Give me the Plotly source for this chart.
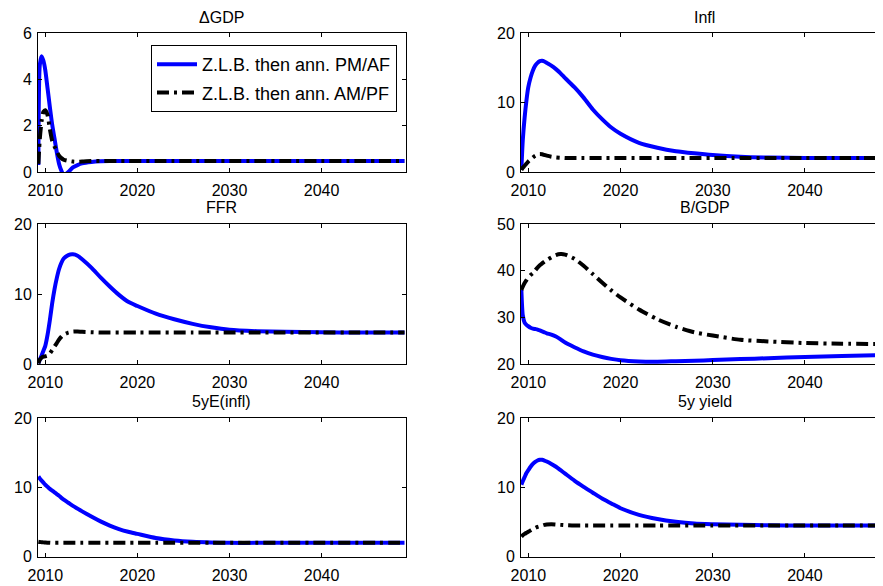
import plotly.graph_objects as go

# ---------------- data ----------------
years = [2009.25, 2009.4, 2009.6, 2009.8, 2010.0, 2010.25, 2010.5, 2010.75, 2011.0, 2011.25,
         2011.5, 2011.75, 2012.0, 2012.5, 2013.0, 2013.5, 2014.0, 2015.0, 2016.0, 2017.0,
         2018.0, 2019.0, 2020.0, 2022.0, 2024.0, 2026.0, 2028.0, 2030.0, 2033.0, 2036.0,
         2040.0, 2044.0, 2049.0]

gdp_pm = [0.3, 4.6, 5.0, 4.8, 4.4, 3.6, 2.8, 2.05, 1.45, 0.85, 0.35, 0.05, -0.15, 0.0, 0.2,
          0.3, 0.37, 0.43, 0.46, 0.47, 0.47, 0.47, 0.47, 0.47, 0.47, 0.47, 0.47, 0.47, 0.47,
          0.47, 0.47, 0.47, 0.47]
gdp_am = [0.35, 1.4, 2.2, 2.6, 2.67, 2.45, 1.85, 1.35, 1.1, 0.9, 0.7, 0.6, 0.53, 0.48, 0.45,
          0.44, 0.45, 0.47, 0.47, 0.47, 0.47, 0.47, 0.47, 0.47, 0.47, 0.47, 0.47, 0.47, 0.47,
          0.47, 0.47, 0.47, 0.47]

infl_pm = [0.3, 4.5, 7.8, 10.3, 12.2, 13.6, 14.6, 15.3, 15.7, 15.95, 16.0, 15.9, 15.7, 15.3,
           14.8, 14.2, 13.5, 12.2, 10.7, 9.0, 7.6, 6.4, 5.5, 4.2, 3.5, 3.0, 2.7, 2.45, 2.2,
           2.08, 2.02, 2.0, 2.0]
infl_am = [0.3, 0.6, 0.9, 1.2, 1.5, 1.8, 2.1, 2.35, 2.5, 2.6, 2.55, 2.45, 2.35, 2.2, 2.1,
           2.05, 2.0, 2.0, 2.0, 2.0, 2.0, 2.0, 2.0, 2.0, 2.0, 2.0, 2.0, 2.0, 2.0, 2.0, 2.0,
           2.0, 2.0]

ffr_pm = [0.1, 0.6, 1.2, 1.9, 2.6, 4.2, 6.3, 8.7, 10.7, 12.3, 13.6, 14.5, 15.1, 15.6, 15.7,
          15.5, 15.0, 13.8, 12.4, 11.1, 9.9, 8.9, 8.3, 7.2, 6.4, 5.75, 5.25, 4.9, 4.7, 4.6,
          4.55, 4.5, 4.5]
ffr_am = [0.1, 0.6, 0.9, 1.05, 1.1, 1.2, 1.5, 2.0, 2.5, 3.0, 3.5, 3.9, 4.2, 4.5, 4.63, 4.65,
          4.6, 4.55, 4.5, 4.5, 4.5, 4.5, 4.5, 4.5, 4.5, 4.5, 4.5, 4.5, 4.5, 4.5, 4.5, 4.5, 4.5]

bgdp_pm = [35.9, 30.5, 28.9, 28.4, 28.1, 27.8, 27.6, 27.5, 27.4, 27.2, 27.0, 26.8, 26.6, 26.3,
           25.9, 25.3, 24.6, 23.6, 22.7, 22.0, 21.5, 21.1, 20.8, 20.55, 20.5, 20.6, 20.7,
           20.85, 21.05, 21.25, 21.5, 21.7, 21.95]
bgdp_am = [35.9, 36.6, 37.4, 38.0, 38.6, 39.1, 39.5, 40.1, 40.7, 41.2, 41.6, 42.0, 42.3, 42.9,
           43.4, 43.6, 43.5, 42.6, 41.1, 39.3, 37.5, 35.8, 34.3, 31.7, 29.6, 28.0, 26.8, 26.1,
           25.2, 24.85, 24.5, 24.35, 24.3]

e5_pm = [11.6, 11.3, 11.0, 10.7, 10.4, 10.1, 9.8, 9.55, 9.3, 9.05, 8.8, 8.5, 8.25, 7.8, 7.35,
         6.95, 6.55, 5.8, 5.1, 4.5, 4.0, 3.6, 3.3, 2.7, 2.35, 2.15, 2.05, 2.0, 2.0, 2.0, 2.0,
         2.0, 2.0]
e5_am = [2.15, 2.12, 2.1, 2.07, 2.05, 2.03, 2.02, 2.0, 2.0, 2.0, 2.0, 2.0, 2.0, 2.0, 2.0, 2.0,
         2.0, 2.0, 2.0, 2.0, 2.0, 2.0, 2.0, 2.0, 2.0, 2.0, 2.0, 2.0, 2.0, 2.0, 2.0, 2.0, 2.0]

y5_pm = [10.4, 10.9, 11.5, 12.1, 12.5, 13.0, 13.4, 13.7, 13.9, 14.0, 14.0, 13.9, 13.75, 13.4,
         13.0, 12.5, 12.0, 11.0, 10.1, 9.25, 8.4, 7.7, 7.0, 6.05, 5.45, 5.05, 4.8, 4.7, 4.6,
         4.55, 4.5, 4.5, 4.5]
y5_am = [2.9, 3.1, 3.3, 3.45, 3.6, 3.8, 4.0, 4.15, 4.3, 4.4, 4.5, 4.6, 4.65, 4.7, 4.65, 4.6,
         4.55, 4.5, 4.5, 4.5, 4.5, 4.5, 4.5, 4.5, 4.5, 4.5, 4.5, 4.5, 4.5, 4.5, 4.5, 4.5, 4.5]

titles = ["\u0394GDP", "Infl", "FFR", "B/GDP", "5yE(infl)", "5y yield"]
series_pm = [gdp_pm, infl_pm, ffr_pm, bgdp_pm, e5_pm, y5_pm]
series_am = [gdp_am, infl_am, ffr_am, bgdp_am, e5_am, y5_am]
y_ticks = [[0, 2, 4, 6], [0, 10, 20], [0, 10, 20], [20, 30, 40, 50], [0, 10, 20], [0, 10, 20]]
x_ticks = [2010, 2020, 2030, 2040]
legend_names = ["Z.L.B. then ann. PM/AF", "Z.L.B. then ann. AM/PF"]

# ---------------- layout geometry ----------------
# page body has an 8px margin: the figure is drawn from (8, 8) in the window
OFF = 8
W, H = 883 - OFF, 586 - OFF
FONT = "Liberation Sans, Arial, sans-serif"
col_px = [(38.0, 405.7), (521.0, 883.0)]
row_px = [(33.0, 172.0), (224.3, 364.0), (418.3, 556.7)]
x_ranges = [[2009.21, 2049.13], [2009.21, 2048.46]]
title_y_px = [17, 208, 401]


def px_x(p):
    return (p - OFF) / W


def px_y(p):
    return 1 - (p - OFF) / H


fig = go.Figure()
layout = dict(
    width=W, height=H,
    margin=dict(l=0, r=0, t=0, b=0, autoexpand=False),
    paper_bgcolor="white", plot_bgcolor="white",
    font=dict(family=FONT, size=16, color="black"),
    showlegend=True,
    legend=dict(
        x=px_x(397), y=px_y(45), xanchor="right", yanchor="top",
        bordercolor="black", borderwidth=1, bgcolor="white",
        font=dict(family=FONT, size=18, color="black"),
        tracegroupgap=2, itemwidth=40,
    ),
)
annotations = []

for i in range(6):
    r, c = divmod(i, 2)
    ax = "" if i == 0 else str(i + 1)
    x0, x1 = col_px[c]
    top, bot = row_px[r]
    layout["xaxis" + ax] = dict(
        domain=[px_x(x0), min(1.0, px_x(x1))], range=x_ranges[c], anchor="y" + ax,
        tickvals=x_ticks, ticks="inside", ticklen=4, tickcolor="black",
        showline=True, linecolor="black", linewidth=1, mirror="ticks",
        showgrid=False, zeroline=False, ticklabelstandoff=4, automargin=False,
        tickfont=dict(family=FONT, size=16, color="black"),
    )
    yt = y_ticks[i]
    layout["yaxis" + ax] = dict(
        domain=[px_y(bot), px_y(top)], range=[yt[0], yt[-1]], anchor="x" + ax,
        tickvals=yt, ticks="inside", ticklen=4, tickcolor="black",
        showline=True, linecolor="black", linewidth=1, mirror="ticks",
        showgrid=False, zeroline=False, ticklabelstandoff=2, automargin=False,
        tickfont=dict(family=FONT, size=16, color="black"),
    )
    fig.add_trace(go.Scatter(
        x=years, y=series_pm[i], mode="lines", xaxis="x" + ax, yaxis="y" + ax,
        line=dict(color="#0000ff", width=4, shape="spline", smoothing=0.6),
        name=legend_names[0], legendgroup="pm", showlegend=(i == 0),
    ))
    fig.add_trace(go.Scatter(
        x=years, y=series_am[i], mode="lines", xaxis="x" + ax, yaxis="y" + ax,
        line=dict(color="black", width=4, dash="12px,5px,3px,5px", shape="spline", smoothing=0.6),
        name=legend_names[1], legendgroup="am", showlegend=(i == 0),
    ))
    annotations.append(dict(
        text=titles[i], xref="paper", yref="paper",
        x=px_x((x0 + (x1 if c == 0 else 888.0)) / 2), y=px_y(title_y_px[r]),
        xanchor="center", yanchor="middle", showarrow=False,
        font=dict(family=FONT, size=16, color="black"),
    ))

layout["annotations"] = annotations
fig.update_layout(**layout)
fig.write_html("out.html")
